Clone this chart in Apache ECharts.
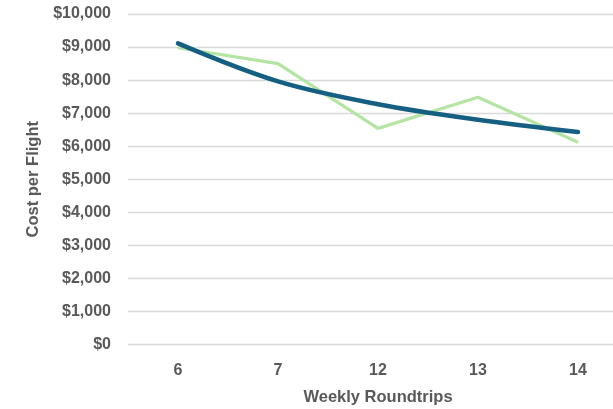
<!DOCTYPE html>
<html>
<head>
<meta charset="utf-8">
<script src="https://cdn.jsdelivr.net/npm/echarts@6/dist/echarts.min.js"></script>
<style>
  html, body { margin: 0; padding: 0; background: #fff; }
  #chart { width: 613px; height: 409px; }
</style>
</head>
<body>
<div id="chart"></div>
<script>
// Weekly roundtrips on the category axis
const roundtrips = ['6', '7', '12', '13', '14'];
// Cost per flight at each schedule
const costPerFlight = [8980, 8500, 6540, 7480, 6120];
// Logarithmic trend through the cost values
const costTrend = [9110, 7960, 7270, 6800, 6430];
// Value axis range
const yMin = 0, yMax = 10000, yStep = 1000;

const textColor = '#595959';
const fontFamily = 'Liberation Sans, Arial, sans-serif';

const chart = echarts.init(document.getElementById('chart'), null, { renderer: 'canvas' });
chart.setOption({
  animation: false,
  backgroundColor: '#ffffff',
  grid: { left: 128, right: -15, top: 14, bottom: 64.5, containLabel: false, outerBoundsMode: 'none' },
  xAxis: {
    type: 'category',
    data: roundtrips,
    boundaryGap: true,
    name: 'Weekly Roundtrips',
    nameLocation: 'middle',
    nameGap: 44,
    nameTextStyle: { color: textColor, fontSize: 16.5, fontWeight: 'bold', fontFamily: fontFamily },
    axisLine: { show: false },
    axisTick: { show: false },
    axisLabel: { color: textColor, fontSize: 16, fontWeight: 'bold', fontFamily: fontFamily, margin: 18 },
    splitLine: { show: false }
  },
  yAxis: {
    type: 'value',
    min: yMin,
    max: yMax,
    interval: yStep,
    name: 'Cost per Flight',
    nameLocation: 'middle',
    nameGap: 77,
    nameTextStyle: { color: textColor, fontSize: 16.5, fontWeight: 'bold', fontFamily: fontFamily },
    axisLine: { show: false },
    axisTick: { show: false },
    axisLabel: {
      color: textColor, fontSize: 16, fontWeight: 'bold', fontFamily: fontFamily, margin: 17,
      formatter: v => '$' + v.toLocaleString('en-US')
    },
    splitLine: { lineStyle: { color: '#d9d9d9', width: 1.3 } }
  },
  series: [
    {
      name: 'Cost per Flight',
      type: 'line',
      data: costPerFlight,
      symbol: 'none',
      lineStyle: { color: '#b4e5a2', width: 3.2 },
      z: 2
    },
    {
      name: 'Trend',
      type: 'line',
      data: costTrend,
      symbol: 'none',
      smooth: 0.35,
      lineStyle: { color: '#156082', width: 4.5, cap: 'round' },
      z: 3
    }
  ]
});
</script>
</body>
</html>
